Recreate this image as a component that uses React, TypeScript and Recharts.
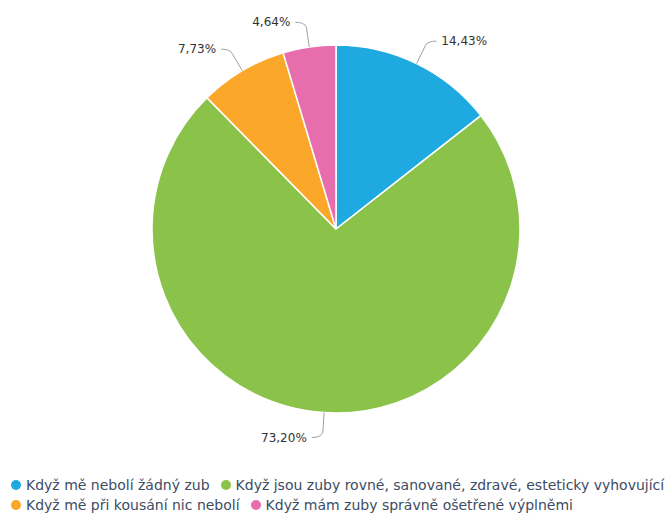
import { PieChart, Pie, Cell, Legend } from 'recharts';

const categories = [
    'Když mě nebolí žádný zub',
    'Když jsou zuby rovné, sanované, zdravé, esteticky vyhovující',
    'Když mě při kousání nic nebolí',
    'Když mám zuby správně ošetřené výplněmi',
];
const shares = [14.43, 73.2, 7.73, 4.64];
const sliceColors = ['#1fa9e1', '#8bc34a', '#fba72a', '#e86dad'];

const data = categories.map((name, i) => ({ name, value: shares[i] }));

const RADIAN = Math.PI / 180;
const FONT = '"DejaVu Sans", Verdana, sans-serif';

const fmt = (v: number) => v.toFixed(2).replace('.', ',') + '%';

// highcharts-style data label: line out of the slice, soft bend, then text
function renderLabel(props: any) {
    const { cx, cy, midAngle, outerRadius, value } = props;
    const cos = Math.cos(-midAngle * RADIAN);
    const sin = Math.sin(-midAngle * RADIAN);
    const side = cos >= 0 ? 1 : -1;
    const ex = cx + outerRadius * cos;
    const ey = cy + outerRadius * sin;
    const bx = cx + (outerRadius + 20) * cos;
    const by = cy + (outerRadius + 20) * sin;
    const ly = cy + (outerRadius + 25) * sin;
    const lx = bx + side * 11;
    return (
        <g>
            <path
                d={`M${ex},${ey} L${bx},${by} Q${bx + side * 2},${ly} ${lx},${ly}`}
                stroke="#a0a0a0"
                strokeWidth={1}
                fill="none"
            />
            <text
                x={lx + side * 5}
                y={ly}
                textAnchor={side > 0 ? 'start' : 'end'}
                dominantBaseline="central"
                fill="#333333"
                fontSize={12}
                fontFamily={FONT}
            >
                {fmt(value)}
            </text>
        </g>
    );
}

// legend keeps the series order, two entries per row
function LegendRows() {
    const items = categories.map((name, i) => ({ name, color: sliceColors[i] }));
    const rows = [items.slice(0, 2), items.slice(2, 4)];
    return (
        <div style={{ fontFamily: FONT, fontSize: 14, color: '#3d4b63' }}>
            {rows.map((row, r) => (
                <div key={r} style={{ display: 'flex', height: 20, alignItems: 'center', whiteSpace: 'nowrap' }}>
                    {row.map((it) => (
                        <div key={it.name} style={{ display: 'flex', alignItems: 'center', marginRight: 11 }}>
                            <span
                                style={{
                                    width: 10,
                                    height: 10,
                                    borderRadius: 5,
                                    background: it.color,
                                    marginRight: 5,
                                    display: 'inline-block',
                                }}
                            />
                            <span>{it.name}</span>
                        </div>
                    ))}
                </div>
            ))}
        </div>
    );
}

export default function App() {
    return (
        <div style={{ position: 'absolute', left: 0, top: 0, width: 665, height: 514, background: '#fff' }}>
            <PieChart width={665} height={514} margin={{ top: 0, right: 0, bottom: 0, left: 0 }}>
                <Pie
                    data={data}
                    dataKey="value"
                    nameKey="name"
                    cx={336}
                    cy={229}
                    outerRadius={184}
                    startAngle={90}
                    endAngle={-270}
                    stroke="#ffffff"
                    strokeWidth={1.5}
                    label={renderLabel}
                    labelLine={false}
                    isAnimationActive={false}
                >
                    {data.map((d, i) => (
                        <Cell key={d.name} fill={sliceColors[i]} />
                    ))}
                </Pie>
                <Legend
                    content={<LegendRows />}
                    wrapperStyle={{ left: 11, top: 475, width: 654 }}
                />
            </PieChart>
        </div>
    );
}
